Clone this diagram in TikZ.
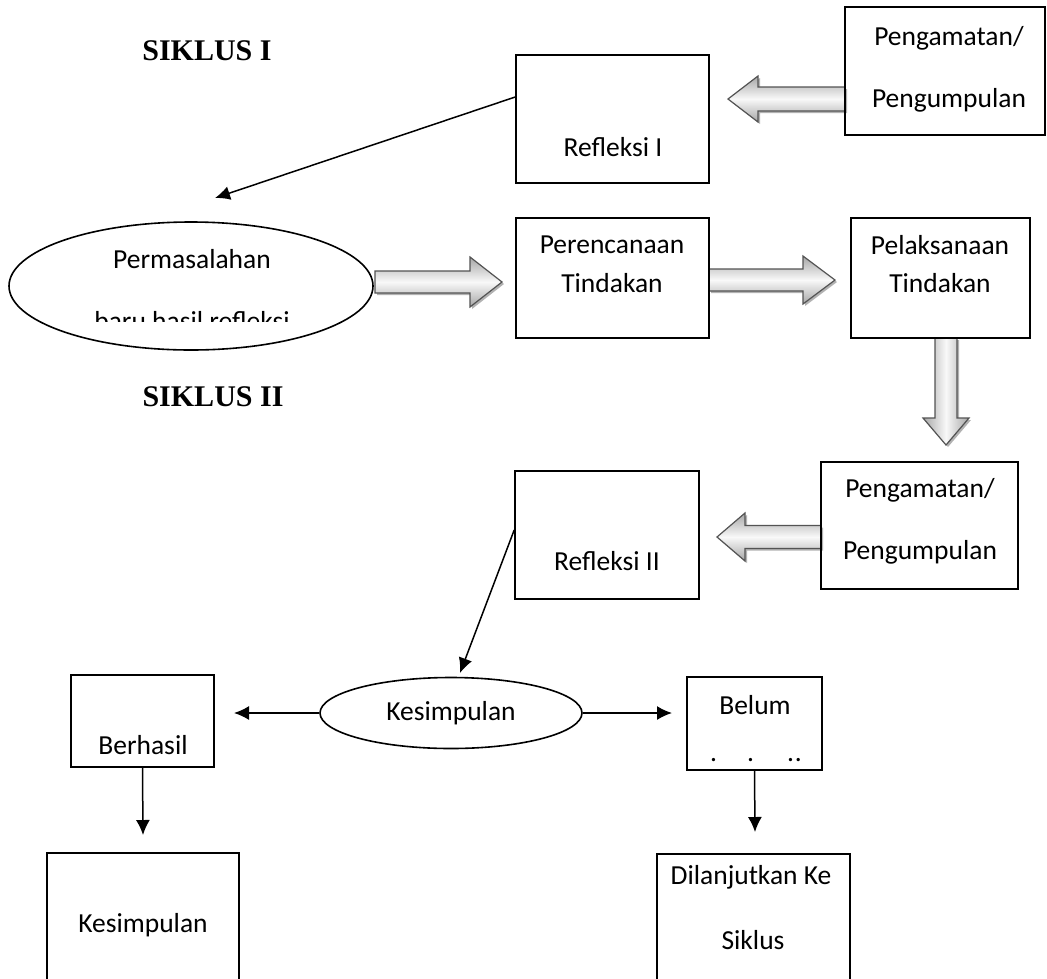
\documentclass[tikz,border=0pt]{standalone}
\usepackage{fontspec}
\setmainfont{Carlito}
\newfontfamily\sikfont{Liberation Serif}
\usetikzlibrary{arrows.meta,shapes.geometric,calc}
\tikzset{
  boxnode/.style={draw=black, line width=1.6pt, inner sep=0pt},
  ellnode/.style={draw=black, line width=1.6pt, ellipse, inner sep=0pt},
  txt/.style={font=\fontsize{27.5}{32}\selectfont, inner sep=0pt},
  sik/.style={font=\sikfont\bfseries\fontsize{30}{35}\selectfont, inner sep=0pt},
  conn/.style={line width=1.5pt, -{Latex[length=15pt,width=14pt]}},
  barrowH/.style={draw=gray!65!black, line width=1.2pt, top color=gray!70, bottom color=gray!70, middle color=gray!5},
  barrowV/.style={draw=gray!65!black, line width=1.2pt, left color=gray!70, right color=gray!70, middle color=gray!5},
  bshadow/.style={fill=gray!60, draw=none},
}
% horizontal block arrow: x-start, x-head-base, x-tip, y-centre, shaft half, head half
\newcommand\blockH[6]{%
  \fill[bshadow] ({#1+2},{#4+#5-2}) -- ({#2+2},{#4+#5-2}) -- ({#2+2},{#4+#6-2}) -- ({#3+2},{#4-2}) -- ({#2+2},{#4-#6-2}) -- ({#2+2},{#4-#5-2}) -- ({#1+2},{#4-#5-2}) -- cycle;
  \path[barrowH] (#1,{#4+#5}) -- (#2,{#4+#5}) -- (#2,{#4+#6}) -- (#3,#4) -- (#2,{#4-#6}) -- (#2,{#4-#5}) -- (#1,{#4-#5}) -- cycle;
}
% vertical block arrow: x-centre, y-start, y-head-base, y-tip, shaft half, head half
\newcommand\blockV[6]{%
  \fill[bshadow] ({#1-#5+2},{#2-2}) -- ({#1-#5+2},{#3-2}) -- ({#1-#6+2},{#3-2}) -- ({#1+2},{#4-2}) -- ({#1+#6+2},{#3-2}) -- ({#1+#5+2},{#3-2}) -- ({#1+#5+2},{#2-2}) -- cycle;
  \path[barrowV] ({#1-#5},#2) -- ({#1-#5},#3) -- ({#1-#6},#3) -- (#1,#4) -- ({#1+#6},#3) -- ({#1+#5},#3) -- ({#1+#5},#2) -- cycle;
}
\begin{document}
\begin{tikzpicture}[x=1pt,y=1pt]
\useasboundingbox (0,0) rectangle (1047,-978);
\clip (0,0) rectangle (1047,-978);

% block arrows
\blockH{845}{758}{728}{-99}{12}{23}
\blockH{375}{470}{502}{-282}{11}{25}
\blockH{709}{803}{835}{-280}{11}{24}
\blockV{946}{-338}{-418}{-445}{11}{23}
\blockH{821}{745}{717}{-537}{11.5}{24}

% titles
\node[sik] (s1) at (207,-51) {SIKLUS I};
\node[sik] (s2) at (213,-397) {SIKLUS II};

% boxes
\node[boxnode, minimum width=193, minimum height=128] (refl1) at (612.5,-119) {};
\node[txt] (refl1t) at (613,-147) {Refleksi I};

\node[boxnode, minimum width=200, minimum height=128] (peng1) at (945,-71) {};
\node[txt] (peng1a) at (949,-38) {Pengamatan/};
\node[txt] (peng1b) at (949,-100) {Pengumpulan};

\node[ellnode, minimum width=364, minimum height=128] (perm) at (191,-286) {};
\node[txt] (perma) at (192,-259) {Permasalahan};
\begin{scope}
  \clip (0,-200) rectangle (400,-321);
  \node[txt, anchor=base] (permb) at (192,-330) {baru hasil refleksi};
\end{scope}

\node[boxnode, minimum width=193, minimum height=120] (peren) at (612.5,-278) {};
\node[txt] (perena) at (612,-245) {Perencanaan};
\node[txt] (perenb) at (612,-283) {Tindakan};

\node[boxnode, minimum width=179, minimum height=120] (pelak) at (940.5,-278) {};
\node[txt] (pelaka) at (940,-245) {Pelaksanaan};
\node[txt] (pelakb) at (940,-283) {Tindakan};

\node[boxnode, minimum width=184, minimum height=128] (refl2) at (607,-535) {};
\node[txt] (refl2t) at (607,-561) {Refleksi II};

\node[boxnode, minimum width=197, minimum height=127] (peng2) at (919.5,-525.5) {};
\node[txt] (peng2a) at (920,-490) {Pengamatan/};
\node[txt] (peng2b) at (920,-552) {Pengumpulan};

\node[ellnode, minimum width=262, minimum height=71] (kes) at (451,-713) {};
\node[txt] (kest) at (451,-713) {Kesimpulan};

\node[boxnode, minimum width=143, minimum height=92] (berh) at (142.5,-721) {};
\node[txt] (berht) at (143,-745) {Berhasil};

\node[boxnode, minimum width=135, minimum height=93] (belum) at (754.5,-723.5) {};
\node[txt] (belumt) at (755,-705) {Belum};
\node[txt, anchor=base west] (belumd) at (710,-761) {.\hspace{30pt}.\hspace{33pt}.\hspace{1pt}.};

\node[boxnode, minimum width=192, minimum height=200, anchor=north] (kesbox) at (143,-852) {};
\node[txt] (kesboxt) at (143,-925) {Kesimpulan};

\node[boxnode, minimum width=193, minimum height=200, anchor=north] (dil) at (753.5,-853) {};
\node[txt] (dila) at (751,-877) {Dilanjutkan Ke};
\node[txt] (dilb) at (753,-940) {Siklus};

% thin connectors
\coordinate (e1) at (215,-198);
\coordinate (e2) at (460,-673);
\coordinate (e3) at (234,-713);
\coordinate (e4) at (672,-713);
\coordinate (e5) at (143,-835);
\coordinate (e6) at (755,-832);
\draw[conn] ([yshift=22]refl1.west) -- (e1);
\draw[conn] ([yshift=5]refl2.west) -- (e2);
\draw[conn] (kes.west) -- (e3);
\draw[conn] (kes.east) -- (e4);
\draw[conn] (berh.south) -- (e5);
\draw[conn] (belum.south) -- (e6);
\end{tikzpicture}
\end{document}
